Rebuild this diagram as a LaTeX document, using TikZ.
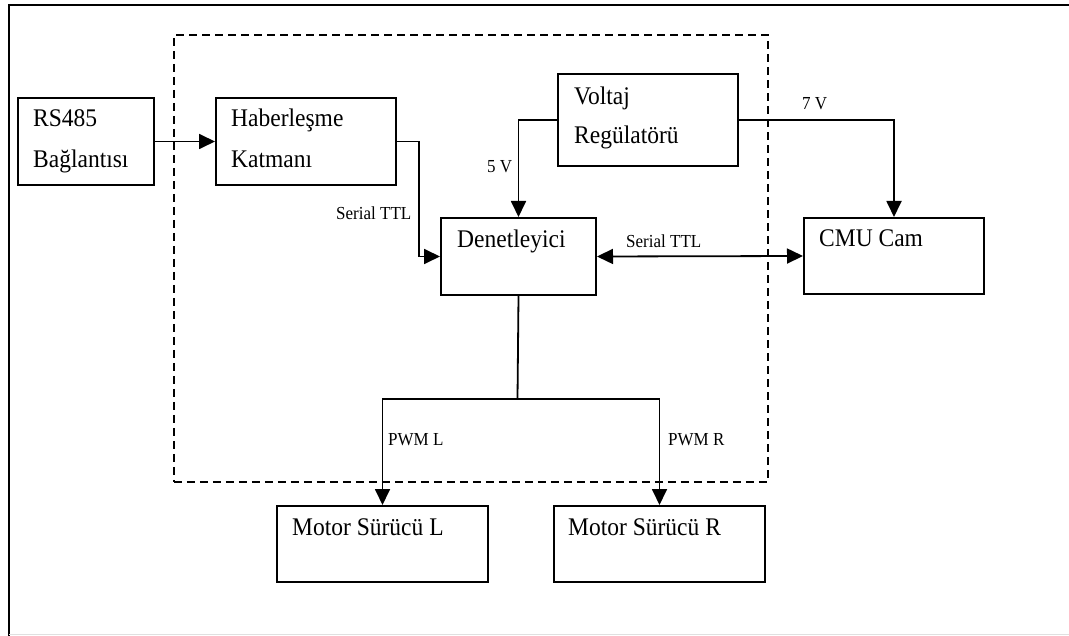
\documentclass[tikz,border=0pt]{standalone}
\usepackage{fontspec}
\setmainfont{Liberation Serif}
\usetikzlibrary{arrows.meta}
\newcommand{\vstr}[1]{\scalebox{1}[1.08]{#1}}
\begin{document}
\begin{tikzpicture}[x=1pt,y=-1pt,
  box/.style={draw, line width=2pt, rectangle, inner sep=0pt, anchor=north west},
  txt/.style={anchor=base west, inner sep=0pt, font=\fontsize{23.5}{28}\selectfont},
  lbl/.style={anchor=base west, inner sep=0pt, font=\fontsize{17}{20}\selectfont},
  conn/.style={line width=1.8pt},
  arr/.style={conn, -{Triangle[length=16pt,width=15pt]}},
  darr/.style={conn, {Triangle[length=16pt,width=15pt]}-{Triangle[length=16pt,width=15pt]}},
  dbox/.style={draw, dashed, dash pattern=on 8pt off 5pt, line width=1.8pt, rectangle, inner sep=0pt, anchor=north west}
]
\useasboundingbox (0,0) rectangle (1069,636);
% outer frame
\draw[line width=1.8pt] (9,636) -- (9,5) -- (1069,5);
\draw[black!12, line width=1pt] (9,634.5) -- (1069,634.5);
% dashed enclosure
\node[dbox, minimum width=594pt, minimum height=447pt] (ctrl) at (173,34) {};
% boxes
\node[box, minimum width=136pt, minimum height=87pt] (rs)   at (17,97) {};
\node[box, minimum width=180pt, minimum height=87pt] (hab)  at (215,97) {};
\node[box, minimum width=180pt, minimum height=92pt] (volt) at (557,73) {};
\node[box, minimum width=155pt, minimum height=77pt] (den)  at (440,217) {};
\node[box, minimum width=180pt, minimum height=76pt] (cmu)  at (803,217) {};
\node[box, minimum width=211pt, minimum height=76pt] (ml)   at (276,505) {};
\node[box, minimum width=211pt, minimum height=76pt] (mr)   at (553,505) {};
% box texts
\node[txt] (rs1) at (33,127) {\vstr{RS485}};
\node[txt] (rs2) at (33,168) {\vstr{Bağlantısı}};
\node[txt] (hab1) at (231,127) {\vstr{Haberleşme}};
\node[txt] (hab2) at (231,168) {\vstr{Katmanı}};
\node[txt] (volt1) at (574,105) {\vstr{Voltaj}};
\node[txt] (volt2) at (574,144) {\vstr{Regülatörü}};
\node[txt] (den1) at (457,248) {\vstr{Denetleyici}};
\node[txt] (cmu1) at (819,247) {\vstr{CMU Cam}};
\node[txt] (ml1) at (292,535) {\vstr{Motor Sürücü L}};
\node[txt] (mr1) at (568,535) {\vstr{Motor Sürücü R}};
% connectors
\draw[arr] (rs.east) -- (hab.west);
\draw[arr] (hab.east) -- ++(22,0) |- (den.west);
\draw[arr] (volt.west) -| (den.north);
\draw[arr] (volt.east) -| (cmu.north);
\draw[darr] (den.east) -- (cmu.west);
\coordinate (split) at (517.5,399);
\draw[conn] (den.south) -- (split);
\draw[arr] (split) -| (ml.north);
\draw[arr] (split) -| (mr.north);
% labels
\node[lbl] (l1) at (336,220) {\vstr{Serial TTL}};
\node[lbl] (l2) at (487,173) {\vstr{5 V}};
\node[lbl] (l3) at (626,248) {\vstr{Serial TTL}};
\node[lbl] (l4) at (802,110) {\vstr{7 V}};
\node[lbl] (l5) at (388,446) {\vstr{PWM L}};
\node[lbl] (l6) at (668,446) {\vstr{PWM R}};
\end{tikzpicture}
\end{document}
